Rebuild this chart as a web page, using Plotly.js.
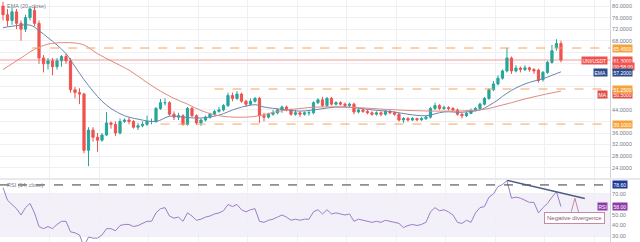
<!DOCTYPE html>
<html><head><meta charset="utf-8">
<script src="https://cdn.plot.ly/plotly-3.0.1.min.js"></script>
<style>html,body{margin:0;padding:0;background:#fff;} #chart{width:640px;height:242px;}</style>
</head><body><div id="chart"></div>
<script>
// ---- candle data (daily) ----
const openP  = [80,77,75,78,74,72,76,78.5,74,62,60,61,59,61,62.5,61,51,50,49.5,30,37,34.5,33.5,35.3,39.5,39,36,40,40.5,40,38,38.5,39,40,40,
  44.5,46.5,46.5,42.5,41.5,42,39,44.5,42,39.5,40.5,41.5,42.5,43.5,44,45.5,49,48,49.5,47,46,47,48,42,41.5,42.5,43,44,45,44,42.5,43,42.5,43,
  43,46.5,47.5,45.5,48,46,46.5,46,45.5,46,43.3,44,43.5,43,42.5,43,42.5,43.5,43,42.5,40.5,41,40.5,41,40.6,41,41.5,44.5,45.5,44.5,44.8,44.5,
  44,42.5,42,42.8,43.8,44.5,46,48,51,53,55,57.5,62,57.5,58.5,58,58.6,58,57.8,54.5,57,60.5,65.5,67];
const highP  = [81.5,79,79.5,79,75,77,80,80,75,63,62,62,62,63,63.5,62,52,51.5,50,38,38,36,36,43.3,40,40,41,41,41.5,40.5,39.5,40,42,41,45,
  47.8,48,47,43.5,43,42.5,45,45,42.5,41,42,43,44,45,46,50,50,50.5,50,47.5,48,48.5,48.5,43,43,44,44.5,45.5,45.5,44.5,44,43.5,43.5,43.8,
  47,48,48.5,48.5,48.5,47,47,46.5,46.5,46.5,44.5,44.5,44,43.5,43.5,43.5,44,44,43.5,43,41.5,41.5,41.5,41.3,41.5,42,45,46.5,46,45.5,45.3,45,
  44.5,43,43.5,44.5,45,46.5,48.5,51.5,54,56,58,65.5,62.5,59.5,59,59.5,59,58.5,58.3,57.5,61,66.5,68.5,68];
const lowP   = [75,73,73.5,72,68,71,75,73,60,57,58,56,58,59,60,50,48,46,29,24.5,33,29.5,33,35,37.5,35,35.5,39.5,39,37.5,37,38,38.5,39,39.5,
  44,45.5,42,40.5,40.5,38.5,38.5,41.5,38.8,38.5,40,41,42,43,43.5,45,47,47.5,46.5,45,45.5,46.5,39.5,40,41,42,42.5,43,43.5,42,42,41.5,42,42,
  42.5,46,45,45,45.5,45.5,45.5,45,45,42.5,42.8,43,42.5,42,42,41.8,42,42.5,42,40,39.5,40,40.2,40.1,40.2,40.5,41,44,44,44,43.8,43.5,42,41,
  41.5,42.5,43.5,44,45.5,47.5,50.5,52.5,54.5,57,56.5,57,57,57.5,57.2,56.5,53.5,53.8,56.5,60,64.5,60.5];
const closeP = [77,75,78,74,72,76,79,74,62,60,61,59,61,62.5,61,51,50,49.5,30,37,34.5,33.5,35.3,39.5,39,36,40,40.5,40,38,38.5,39,40,40,44.5,
  46.5,46.5,42.5,41.5,42,39,44.5,42,39.5,40.5,41.5,42.5,43.5,44,45.5,49,48,49.5,47,46,47,48,42,41.5,42.5,43,44,45,44,42.5,43,42.5,43,43,
  46.5,47.5,45.5,48,46,46.5,46,45.5,46,43.3,44,43.5,43,42.5,43,42.5,43.5,43,42.5,40.5,41,40.5,41,40.6,41,41.5,44.5,45.5,44.5,44.8,44.5,44,
  42.5,42,42.8,43.8,44.5,46,48,51,53,55,57.5,62,57.5,58.5,58,58.6,58,57.5,54.2,57,60.5,64.5,67,61.3];

// ---- moving averages (candle index, value) ----
const emaIdx = [0,2,6,8,10,12,14,16,18,20,22,24,27,30,34,37,40,44,48,52,56,58,62,66,70,74,78,82,86,90,94,98,102,106,108,110,112,114,116,118,120,122,124];
const emaVal = [72.5,73,73.4,71.5,69,66.5,63.5,59,54.5,50.5,47,44.5,42,40.8,40,41.8,41.5,41.2,42.2,44.5,45.8,45,44.2,43.6,44.2,45,44.8,44,43.5,42.5,42,43.3,43.2,44,45.5,47.5,49.8,51.6,53,54,54.8,56,57.2];
const smaIdx = [0,4,7,10,13,16,18,21,24,28,32,35,38,41,44,47,50,54,57,61,66,70,75,80,85,90,95,100,104,107,110,113,116,119,122,124];
const smaVal = [58,62,65,66.8,67.3,67.2,66.5,63.5,61,57.8,53.5,50.5,48,46,43.8,42.3,41.6,41.5,42,43.5,44.5,45,45,44.7,44.2,43.8,43.6,43.6,43.8,44.2,45.3,46.5,47.8,48.9,49.9,50.5];

// ---- RSI (14) per candle ----
const rsiVal = [76,64,60,56,50,57,61,52,39,37,39,37,41,44,44,34,33,31,20,29,28,28,31,37,37,35,40,41,41,39,40,42,44,44,52,
  56,57,49,47,48,44,52,49,45,46,48,49,51,52,54,60,58,60,55,53,55,56,44,43,45,46,48,50,48,45,46,45,46,46,
  53,55,51,55,51,52,51,50,51,44,46,45,44,43,44,43,45,44,43,42,38,40,41,40,41,43,53,57,54,55,53,50,
  43,42,45,43,52,57,58,67,70,77,79,82.5,66,67,66,64,62,62,52,57,61,67,72,58];

// ---- horizontal levels ----
const levelVals  = [65.45, 51.25, 39.1];
const levelText  = ['65.4500', '51.2500', '39.1000'];
const levelStart = [6.5, 47, 35];
const rsiDashLevel = 78.6;
const rsiTrend = {x: [112, 129.3], y: [83, 65.7]};

const priceTicks = [24,28,32,36,40,44,48,52,56,60,64,68,72,76,80];
const priceTickShown = [24,28,32,36,44,68,72,76,80];
const rsiTicks = [30,40,50,60,70];
const rsiTickShown = [30,40,50,70];

const N = closeP.length;
const xIdx = closeP.map((_, i) => i);
const XR = [-0.67, 134.9];
const PR = 610/640;
const gridX = [];
for (let g = 10.4; g < XR[1]; g += 11) gridX.push(g);

const lastClose = closeP[N-1];
const lastEma = emaVal[emaVal.length-1];
const lastSma = smaVal[smaVal.length-1];
const lastRsi = rsiVal[N-1];

const font = 'Liberation Sans, Arial, sans-serif';
const traces = [
  {type:'candlestick', x:xIdx, open:openP, high:highP, low:lowP, close:closeP, xaxis:'x', yaxis:'y',
   increasing:{line:{color:'#26a69a', width:1}, fillcolor:'#26a69a'},
   decreasing:{line:{color:'#ef5350', width:1}, fillcolor:'#ef5350'},
   whiskerwidth:0, hoverinfo:'skip', showlegend:false},
  {type:'scatter', mode:'lines', x:emaIdx, y:emaVal, xaxis:'x', yaxis:'y', line:{color:'#6a84b0', width:1, shape:'spline'}, showlegend:false},
  {type:'scatter', mode:'lines', x:smaIdx, y:smaVal, xaxis:'x', yaxis:'y', line:{color:'#e08a7e', width:1, shape:'spline'}, showlegend:false},
  {type:'scatter', mode:'lines', x:xIdx, y:rsiVal, xaxis:'x', yaxis:'y2', line:{color:'#9b7fc6', width:1}, showlegend:false}
];

const shapes = [
  {type:'rect', xref:'paper', yref:'y2', x0:0, x1:PR, y0:30, y1:70, fillcolor:'rgba(126,87,194,0.09)', line:{width:0}, layer:'below'},
  {type:'line', xref:'paper', yref:'y2', x0:0, x1:PR, y0:rsiDashLevel, y1:rsiDashLevel, line:{color:'#3a3a3a', width:1, dash:'dash'}},
  {type:'line', xref:'paper', yref:'paper', x0:0, x1:1, y0:63/242, y1:63/242, line:{color:'#d1d4dc', width:1}},
  {type:'line', xref:'paper', yref:'y', x0:0, x1:PR, y0:lastClose, y1:lastClose, line:{color:'rgba(239,83,80,0.6)', width:1}},
  {type:'line', xref:'x', yref:'y2', x0:rsiTrend.x[0], x1:rsiTrend.x[1], y0:rsiTrend.y[0], y1:rsiTrend.y[1], line:{color:'#4d5e80', width:1.5}},
  {type:'path', xref:'x', yref:'y2', path:'M 126.3 53 L 127.1 66 L 127.9 53', line:{color:'#c58aa5', width:1}}
];
levelVals.forEach((v, k) => shapes.push({type:'line', xref:'x', yref:'y', x0:levelStart[k], x1:XR[1], y0:v, y1:v,
  line:{color:'#f5a25a', width:1, dash:'dash'}}));

const lab = (txt, y, yref, bg, xa, xanchor) => ({text:txt, xref:'paper', x:xa, xanchor:xanchor, yref:yref, y:y, yanchor:'middle',
  showarrow:false, bgcolor:bg, font:{size:5, color:'#ffffff', family:font}, borderpad:0.5});
const annotations = [
  {text:'EMA (20, close)', xref:'paper', yref:'paper', x:0.008, y:0.995, xanchor:'left', yanchor:'top', showarrow:false, font:{size:5.5, color:'#787b86', family:font}},
  {text:'RSI (14, close)', xref:'paper', yref:'paper', x:0.008, y:(242-180)/242, xanchor:'left', yanchor:'top', showarrow:false, font:{size:5.5, color:'#787b86', family:font}},
  {text:'Negative divergence', xref:'x', yref:'y2', x:127.1, y:47.5, showarrow:false, bgcolor:'#ffffff', bordercolor:'#c58aa5', borderwidth:1, borderpad:2,
   font:{size:6, color:'#8a5a7a', family:font}},
  lab('UNI/USDT', lastClose, 'y', '#ef5350', 608/640, 'right'),
  lab(lastClose.toFixed(4), lastClose, 'y', '#ef5350', 612/640, 'left'),
  lab('00:58:00', lastClose - 2.3, 'y', '#ef5350', 612/640, 'left'),
  lab('EMA', lastEma - 0.4, 'y', '#2d4a8a', 608/640, 'right'),
  lab(lastEma.toFixed(4), lastEma - 0.4, 'y', '#2d4a8a', 612/640, 'left'),
  lab('MA', lastSma - 1.2, 'y', '#e0504a', 608/640, 'right'),
  lab(lastSma.toFixed(4), lastSma - 1.2, 'y', '#e0504a', 612/640, 'left'),
  lab(rsiDashLevel.toFixed(2), rsiDashLevel, 'y2', '#1f3a93', 612/640, 'left'),
  lab('RSI', lastRsi, 'y2', '#8e3aa8', 608/640, 'right'),
  lab(lastRsi.toFixed(2), lastRsi, 'y2', '#8e3aa8', 612/640, 'left')
];
levelVals.forEach((v, k) => annotations.push(lab(levelText[k], v, 'y', '#f5a23a', 612/640, 'left')));

const layout = {
  width:640, height:242, margin:{l:0, r:0, t:0, b:0}, paper_bgcolor:'#ffffff', plot_bgcolor:'#ffffff',
  showlegend:false, hovermode:false, dragmode:false,
  xaxis:{domain:[0, PR], range:XR, anchor:'y2', showticklabels:false, ticks:'', tickvals:gridX, showgrid:true, gridcolor:'#eef0f4',
    zeroline:false, showline:false, rangeslider:{visible:false}, fixedrange:true},
  yaxis:{domain:[64/242, 1], range:[20.4, 82.1], side:'right', anchor:'x', tickvals:priceTicks,
    ticktext:priceTicks.map(v => priceTickShown.includes(v) ? v.toFixed(4) : ''), showgrid:true, gridcolor:'#eef0f4',
    tickfont:{size:5.5, color:'#787b86', family:font}, showline:true, linecolor:'#d1d4dc', linewidth:1, ticks:'', zeroline:false},
  yaxis2:{domain:[0, 62/242], range:[24.3, 83.3], side:'right', anchor:'x', tickvals:rsiTicks,
    ticktext:rsiTicks.map(v => rsiTickShown.includes(v) ? v.toFixed(2) : ''), showgrid:true, gridcolor:'#eef0f4',
    tickfont:{size:5.5, color:'#787b86', family:font}, showline:true, linecolor:'#d1d4dc', linewidth:1, ticks:'', zeroline:false},
  shapes:shapes, annotations:annotations
};
Plotly.newPlot('chart', traces, layout, {displayModeBar:false, staticPlot:true});
</script></body></html>
